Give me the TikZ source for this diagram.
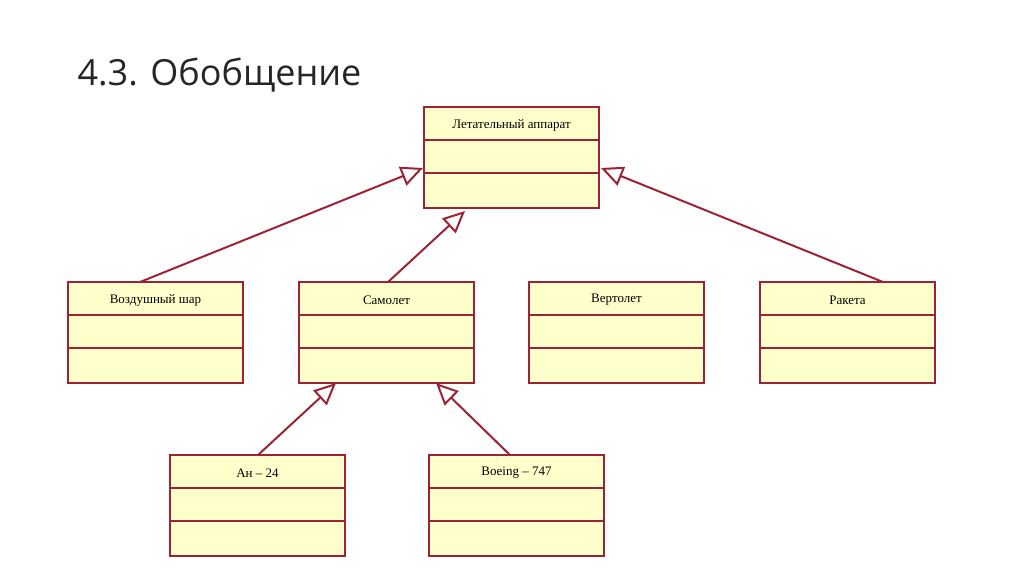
\documentclass[tikz,border=0pt]{standalone}
\usepackage{fontspec}
\setmainfont{Liberation Serif}
\newfontfamily\titlefont{Open Sans}
\usetikzlibrary{arrows.meta}
\definecolor{bord}{HTML}{9B2335}
\definecolor{fillc}{HTML}{FFFFCC}
\tikzset{
  cls/.style={draw=bord, line width=2pt, fill=fillc},
  lbl/.style={font=\fontsize{13}{15}\selectfont, text=black},
  gen/.style={draw=bord, line width=2pt, -{Triangle[open, length=22pt, width=20pt, line width=2pt]}}
}
\newcommand{\umlbox}[4]{% name, x, y(top), label
  \draw[cls] (#2,#3) rectangle ++(175,101);
  \draw[bord, line width=2pt] (#2,#3+33) -- ++(175,0) (#2,#3+66) -- ++(175,0);
  \node[lbl] (#1) at (#2+87.5,#3+18) {#4};
}
\begin{document}
\begin{tikzpicture}[x=1pt,y=-1pt]
\useasboundingbox (0,0) rectangle (1024,574);
\node[anchor=west, font=\titlefont\fontsize{36}{40}\selectfont, text=black!85] (title) at (74,75) {4.3. Обобщение};
\umlbox{la}{424}{107}{Летательный аппарат}
\umlbox{vs}{68}{282}{Воздушный шар}
\umlbox{sm}{299}{282}{Самолет}
\umlbox{vt}{529}{282}{Вертолет}
\umlbox{rk}{760}{282}{Ракета}
\umlbox{an}{170}{455}{Ан -- 24}
\umlbox{bo}{429}{455}{Boeing -- 747}
\coordinate (laL) at (423,168);
\coordinate (laB) at (465,211);
\coordinate (laR) at (601,168);
\coordinate (vsT) at (140,282);
\coordinate (smT) at (388,282);
\coordinate (rkT) at (883,282);
\coordinate (smB1) at (336,383);
\coordinate (smB2) at (436,383);
\coordinate (anT) at (258,455);
\coordinate (boT) at (510,455);
\draw[gen] (vsT) -- (laL);
\draw[gen] (smT) -- (laB);
\draw[gen] (rkT) -- (laR);
\draw[gen] (anT) -- (smB1);
\draw[gen] (boT) -- (smB2);
\end{tikzpicture}
\end{document}
